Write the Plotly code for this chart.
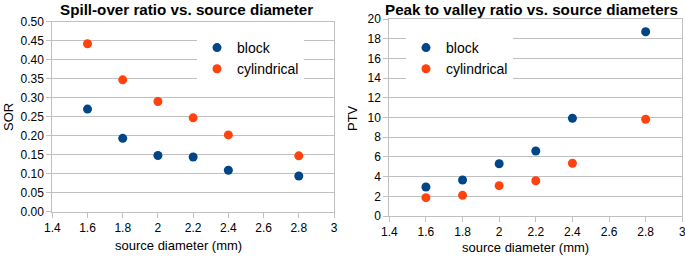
import plotly.graph_objects as go

diam = [1.6, 1.8, 2.0, 2.2, 2.4, 2.8]
sor_block = [0.270, 0.193, 0.148, 0.144, 0.109, 0.094]
sor_cyl = [0.442, 0.347, 0.290, 0.247, 0.202, 0.147]
ptv_block = [2.94, 3.65, 5.31, 6.60, 9.92, 18.71]
ptv_cyl = [1.86, 2.10, 3.08, 3.58, 5.35, 9.82]

BLUE = "#004586"
ORANGE = "#ff420e"
FONT = "Liberation Sans, Arial, sans-serif"
W, H = 685, 256

fig = go.Figure()
fig.add_trace(go.Scatter(x=diam, y=sor_block, mode="markers", name="block",
                         marker=dict(color=BLUE, size=9), xaxis="x", yaxis="y", legend="legend"))
fig.add_trace(go.Scatter(x=diam, y=sor_cyl, mode="markers", name="cylindrical",
                         marker=dict(color=ORANGE, size=9), xaxis="x", yaxis="y", legend="legend"))
fig.add_trace(go.Scatter(x=diam, y=ptv_block, mode="markers", name="block",
                         marker=dict(color=BLUE, size=9), xaxis="x2", yaxis="y2", legend="legend2"))
fig.add_trace(go.Scatter(x=diam, y=ptv_cyl, mode="markers", name="cylindrical",
                         marker=dict(color=ORANGE, size=9), xaxis="x2", yaxis="y2", legend="legend2"))

def px_x(p):
    return p / W

def px_y(p):
    return 1 - p / H

axis_common = dict(
    showline=True, linecolor="#c0c0c0", linewidth=1, mirror=True,
    ticks="outside", ticklen=5, tickcolor="#c0c0c0",
    tickfont=dict(size=12, color="#000000", family=FONT),
    zeroline=False, automargin=False, ticklabeloverflow="allow",
)

def ann(text, x, y, size, angle=0):
    return dict(text=text, x=px_x(x), y=px_y(y), xref="paper", yref="paper",
                showarrow=False, font=dict(size=size, color="#000000", family=FONT),
                xanchor="center", yanchor="middle", textangle=angle)

fig.update_layout(
    width=W, height=H,
    margin=dict(l=0, r=0, t=0, b=0, autoexpand=False),
    paper_bgcolor="white", plot_bgcolor="white",
    font=dict(family=FONT, color="#000000"),
    showlegend=True,
    xaxis=dict(domain=[px_x(52.3), px_x(334)], range=[1.4, 3], dtick=0.2, tick0=1.4,
               showgrid=False, anchor="y", **axis_common),
    yaxis=dict(domain=[px_y(211.7), px_y(21.7)], range=[0, 0.5], dtick=0.05,
               tickformat=".2f", showgrid=True, gridcolor="#c0c0c0", gridwidth=1,
               anchor="x", **axis_common),
    xaxis2=dict(domain=[px_x(389.3), px_x(682.3)], range=[1.4, 3], dtick=0.2, tick0=1.4,
                showgrid=False, anchor="y2", **axis_common),
    yaxis2=dict(domain=[px_y(216), px_y(19)], range=[0, 20], dtick=2,
                showgrid=True, gridcolor="#c0c0c0", gridwidth=1,
                anchor="x2", **axis_common),
    legend=dict(x=px_x(197), y=px_y(32), xanchor="left", yanchor="top",
                bgcolor="white", font=dict(size=14), itemwidth=30,
                tracegroupgap=0),
    legend2=dict(x=px_x(406), y=px_y(32), xanchor="left", yanchor="top",
                 bgcolor="white", font=dict(size=14), itemwidth=30,
                 tracegroupgap=0),
    annotations=[
        ann("<b>Spill-over ratio vs. source diameter</b>", 186, 9, 15.2),
        ann("<b>Peak to valley ratio vs. source diameters</b>", 531, 9, 15.2),
        ann("source diameter (mm)", 178, 245, 13),
        ann("source diameter (mm)", 525, 247, 13),
        ann("SOR", 8, 117, 13, -90),
        ann("PTV", 352, 118, 13, -90),
    ],
)

fig.write_html("out.html", config={"displayModeBar": False},
               post_script="document.body.style.margin='0';document.body.style.padding='0';")
